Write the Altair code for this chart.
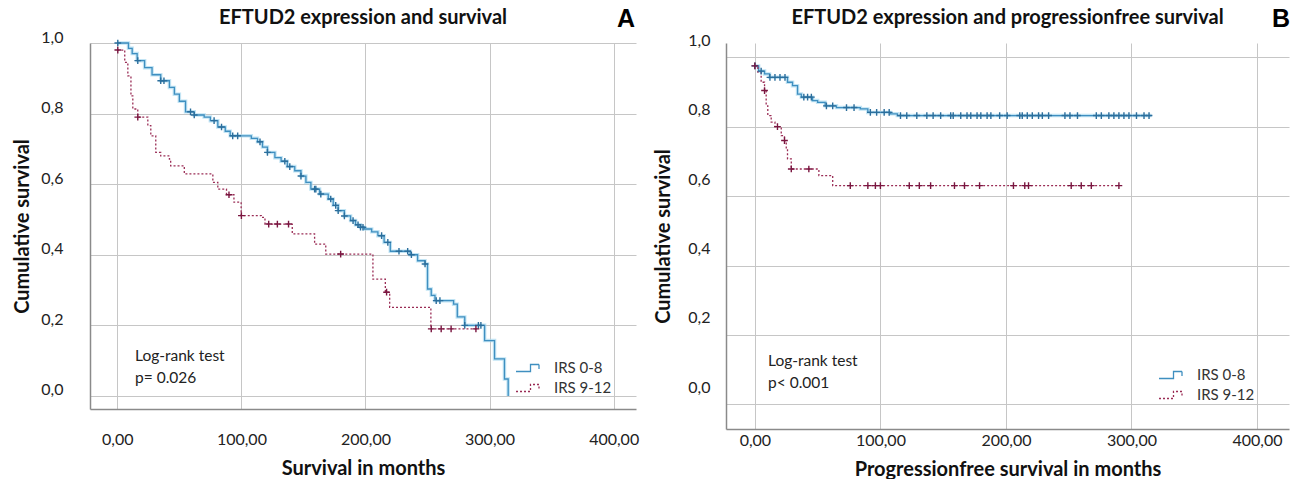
import altair as alt
import numpy as np
import pandas as pd

GROUPS = ["IRS 0-8", "IRS 9-12"]

# ---------------- Panel A: overall survival ----------------
A_LOW_T = [0, 9, 12, 16, 22, 28, 35, 42, 46, 50,
           55, 62, 70, 75, 81, 87, 91, 108, 113, 117,
           121, 127, 132, 137, 143, 148, 152, 156, 163, 170,
           174, 178, 183, 188, 192, 196, 199, 205, 210, 215,
           220, 236, 242, 248, 250, 253, 256, 271, 274, 280,
           296, 304, 312, 315]
A_LOW_S = [1.0, 0.985, 0.97, 0.95, 0.93, 0.91, 0.893, 0.874, 0.855, 0.835,
           0.805, 0.796, 0.79, 0.78, 0.762, 0.75, 0.737, 0.73, 0.72, 0.705,
           0.69, 0.675, 0.665, 0.65, 0.638, 0.623, 0.605, 0.586, 0.572, 0.558,
           0.54, 0.525, 0.51, 0.497, 0.485, 0.478, 0.473, 0.465, 0.454, 0.435,
           0.41, 0.40, 0.383, 0.374, 0.303, 0.285, 0.27, 0.26, 0.224, 0.2,
           0.157, 0.105, 0.048, 0.0]
A_HIGH_T = [0, 6, 8.5, 11, 12.5, 16.5, 24.6, 27, 31, 35,
            42, 43, 54, 77, 81, 88, 94, 99.8, 116, 119,
            141, 159, 168, 206, 216, 219.5, 252.7, 290]
A_HIGH_S = [0.98, 0.945, 0.907, 0.85, 0.813, 0.79, 0.766, 0.737, 0.69, 0.68,
            0.671, 0.652, 0.629, 0.605, 0.586, 0.57, 0.549, 0.511, 0.506, 0.487,
            0.459, 0.43, 0.402, 0.331, 0.294, 0.251, 0.19, 0.19]
A_LOW_CENS = [0.4, 16.5, 35, 37.6, 59, 62, 78, 84, 93, 97, 115, 121, 135, 139,
              148, 159, 160, 164, 172, 176, 178, 183, 190, 194, 196, 198, 213,
              218, 227, 234, 237, 248, 257, 260, 280, 291, 293]
A_HIGH_CENS = [0.4, 16.5, 90, 100, 122, 129, 138, 180, 217, 253, 261, 269, 289]

# ---------------- Panel B: progression-free survival ----------------
B_LOW_T = [0, 3, 7.7, 11.7, 26, 30, 34, 37, 46, 50, 56, 65, 84, 90, 108, 113.5, 316]
B_LOW_S = [0.975, 0.96, 0.952, 0.942, 0.928, 0.918, 0.894, 0.885, 0.875, 0.87,
           0.86, 0.855, 0.851, 0.841, 0.837, 0.832, 0.832]
B_HIGH_T = [0, 2.4, 5, 7.7, 9, 10.3, 13, 16, 21, 23.6, 25, 26, 29, 51, 62, 290]
B_HIGH_S = [0.975, 0.957, 0.928, 0.904, 0.86, 0.832, 0.813, 0.80, 0.774, 0.76,
            0.736, 0.707, 0.678, 0.659, 0.63, 0.63]
B_LOW_CENS = [0, 5, 12, 16, 20, 24, 39, 42, 45, 57, 62, 73, 79, 92, 97, 103, 107,
              116, 121, 129, 137, 142, 148, 156, 158, 164, 169, 172, 177, 180, 185,
              188, 195, 201, 211, 213, 217, 221, 226, 229, 234, 247, 251, 257, 272,
              276, 282, 286, 290, 294, 298, 304, 310, 314]
B_HIGH_CENS = [0, 7.7, 18, 23.6, 29, 43, 76, 90, 96, 100, 123, 131, 140, 159, 167,
               179, 206, 215, 218, 252, 260, 268, 290]

X_TICKS = [0, 100, 200, 300, 400]
Y_TICKS = [0.0, 0.2, 0.4, 0.6, 0.8, 1.0]

TITLE_A = "EFTUD2  expression and survival"
TITLE_B = "EFTUD2  expression and progressionfree survival"
XTITLE_A = "Survival in months"
XTITLE_B = "Progressionfree survival in months"
YTITLE = "Cumulative survival"
LOGRANK_A = ["Log-rank test", "p= 0.026"]
LOGRANK_B = ["Log-rank test", "p< 0.001"]

BLUE = "#3f8fc0"
BLUE_GLOW = "#a8d8f0"
RED = "#9a2c55"
BLUE_CENS = "#2b6e9c"
RED_CENS = "#7a1640"
FONT = "Lato"
LEG_PATH = "M-1.3,0.35L0.15,0.35L0.15,-0.35L1,-0.35L1,0.1"


def steps(tl, sl, g):
    return pd.DataFrame({"t": tl, "s": sl, "g": g})


def cens(tl, sl, cl, g):
    t = np.array(tl, dtype=float)
    s = np.array(sl, dtype=float)
    c = np.array(cl, dtype=float)
    idx = np.searchsorted(t, c, side="right") - 1
    return pd.DataFrame({"t": c, "s": s[idx], "g": g})


def panel(low_t, low_s, high_t, high_s, low_c, high_c, title, xtitle, letter,
          logrank, w, h, xdom, ydom, title_y, ylab_pad, ytitle_pad,
          ylab_off, xlab_pad, xtitle_pad, leg_x, leg_y, letter_xy, lr_xy):
    st = pd.concat([steps(low_t, low_s, GROUPS[0]), steps(high_t, high_s, GROUPS[1])])
    cl = cens(low_t, low_s, low_c, GROUPS[0])
    ch = cens(high_t, high_s, high_c, GROUPS[1])

    x = alt.X("t:Q", scale=alt.Scale(domain=xdom, nice=False, zero=False),
              axis=alt.Axis(values=X_TICKS, title=xtitle, grid=True,
                            labelExpr="replace(format(datum.value, '.2f'), '.', ',')",
                            ticks=False, tickSize=0, labelPadding=xlab_pad,
                            titlePadding=xtitle_pad, labelFlush=False))
    y = alt.Y("s:Q", scale=alt.Scale(domain=ydom, nice=False, zero=False),
              axis=alt.Axis(values=Y_TICKS, title=YTITLE, grid=True,
                            labelExpr="replace(format(datum.value, '.1f'), '.', ',')",
                            ticks=False, tickSize=0, labelPadding=ylab_pad,
                            titlePadding=ytitle_pad, labelOffset=ylab_off,
                            labelFlush=False))

    leg = alt.Legend(orient="none", legendX=leg_x, legendY=leg_y, title=None,
                     symbolType=LEG_PATH, symbolSize=400, symbolStrokeWidth=1.3,
                     symbolFillColor="transparent", labelFont=FONT,
                     labelFontSize=15, labelColor="#333333", labelOffset=14,
                     rowPadding=1)

    glow = alt.Chart(st).transform_filter(alt.datum.g == GROUPS[0]).mark_line(
        interpolate="step-after", color=BLUE_GLOW, strokeWidth=3.5, opacity=0.7
    ).encode(x=x, y=y)
    lines = alt.Chart(st).mark_line(interpolate="step-after", strokeWidth=1.3).encode(
        x=x, y=y,
        color=alt.Color("g:N", scale=alt.Scale(domain=GROUPS, range=[BLUE, RED]), legend=leg),
        strokeDash=alt.StrokeDash("g:N", scale=alt.Scale(domain=GROUPS, range=[[1, 0], [2, 2]]),
                                  legend=leg),
    )
    pl = alt.Chart(cl).mark_point(shape="M-1,0L1,0M0,-1L0,1", filled=False, size=45,
                                  strokeWidth=1.4, color=BLUE_CENS, opacity=1).encode(x=x, y=y)
    ph = alt.Chart(ch).mark_point(shape="M-1,0L1,0M0,-1L0,1", filled=False, size=45,
                                  strokeWidth=1.4, color=RED_CENS, opacity=1).encode(x=x, y=y)
    one = pd.DataFrame({"k": [0]})
    lr = alt.Chart(one).mark_text(align="left", baseline="middle", font=FONT, fontSize=15.5,
                                  lineHeight=22, color="#222222").encode(
        x=alt.value(lr_xy[0]), y=alt.value(lr_xy[1]), text=alt.value(logrank))
    let = alt.Chart(one).mark_text(align="center", baseline="middle", font="Liberation Sans",
                                   fontSize=25, fontWeight="bold", color="#000000").encode(
        x=alt.value(letter_xy[0]), y=alt.value(letter_xy[1]), text=alt.value(letter))
    ttl = alt.Chart(one).mark_text(align="center", baseline="middle", font=FONT,
                                   fontSize=20, fontWeight="bold", color="#111111").encode(
        x=alt.value(w / 2), y=alt.value(title_y), text=alt.value(title))

    return alt.layer(glow, lines, pl, ph, lr, let, ttl).properties(
        width=w, height=h,
    ).resolve_scale(color="independent", strokeDash="independent")


pa = panel(A_LOW_T, A_LOW_S, A_HIGH_T, A_HIGH_S, A_LOW_CENS, A_HIGH_CENS,
           TITLE_A, XTITLE_A, "A", LOGRANK_A, 546, 366, [-22, 418], [-0.037, 1.0],
           title_y=-25, ylab_pad=27, ytitle_pad=8, ylab_off=-6,
           xlab_pad=22, xtitle_pad=11, leg_x=428, leg_y=314,
           letter_xy=(536, -24), lr_xy=(45, 313))
pb = panel(B_LOW_T, B_LOW_S, B_HIGH_T, B_HIGH_S, B_LOW_CENS, B_HIGH_CENS,
           TITLE_B, XTITLE_B, "B", LOGRANK_B, 563, 386, [-23, 425.5], [-0.071, 1.041],
           title_y=-25, ylab_pad=16, ytitle_pad=14, ylab_off=-17,
           xlab_pad=3, xtitle_pad=11, leg_x=435, leg_y=321,
           letter_xy=(555, -24), lr_xy=(42, 318))

chart = alt.hconcat(pa, pb, spacing=14).resolve_scale(
    color="independent", strokeDash="independent", x="independent", y="independent"
).resolve_legend(color="independent", strokeDash="independent").properties(
    padding={"left": 12, "top": 7, "right": 0, "bottom": 0}
).configure_view(strokeWidth=0).configure_axis(
    gridColor="#c6c6c6", gridWidth=1, domainColor="#8a8a8a", domainWidth=1.5,
    labelFont=FONT, labelFontSize=16, labelColor="#222222",
    titleFont=FONT, titleFontSize=20, titleFontWeight="bold", titleColor="#111111"
)

chart.save("out.html", embed_options={"renderer": "svg", "actions": False})
